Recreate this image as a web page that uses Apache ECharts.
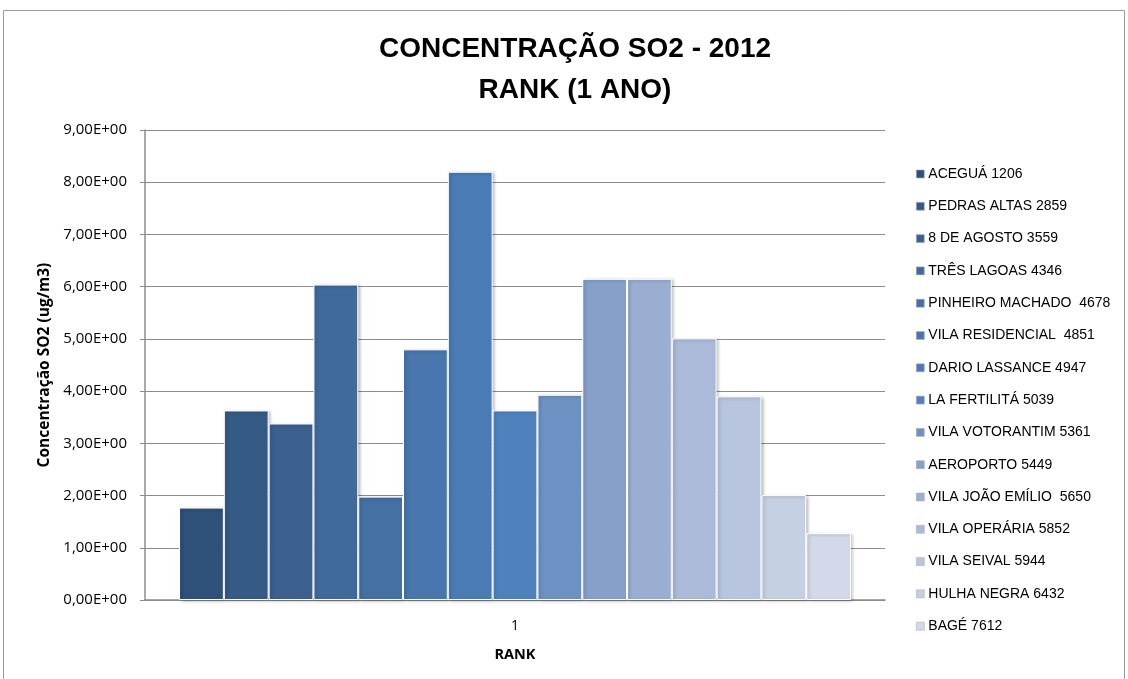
<!DOCTYPE html>
<html>
<head>
<meta charset="utf-8">
<script src="https://cdn.jsdelivr.net/npm/echarts@6/dist/echarts.min.js"></script>
<style>
  html, body { margin: 0; padding: 0; background: #fff; }
  #chart { width: 1128px; height: 679px; }
</style>
</head>
<body>
<div id="chart"></div>
<script>
// Station names with their codes, ordered as in the ranking
const stations = [
  'ACEGUÁ 1206', 'PEDRAS ALTAS 2859', '8 DE AGOSTO 3559', 'TRÊS LAGOAS 4346',
  'PINHEIRO MACHADO  4678', 'VILA RESIDENCIAL  4851', 'DARIO LASSANCE 4947',
  'LA FERTILITÁ 5039', 'VILA VOTORANTIM 5361', 'AEROPORTO 5449',
  'VILA JOÃO EMÍLIO  5650', 'VILA OPERÁRIA 5852', 'VILA SEIVAL 5944',
  'HULHA NEGRA 6432', 'BAGÉ 7612'
];
// Annual SO2 concentration (ug/m3) for each station
const concentrations = [
  1.77, 3.63, 3.38, 6.04, 1.98, 4.80, 8.20, 3.63,
  3.93, 6.15, 6.15, 5.01, 3.90, 2.01, 1.28
];
const categories = ['1'];
const barColors = [
  '#2F5078', '#355A86', '#3C608F', '#406A9B', '#4470A4', '#4876AD', '#4A7BB5',
  '#4F82BD', '#6E91C4', '#86A0CA', '#9AAED1', '#ABBAD8', '#B8C5DF', '#C6D0E3', '#D3D9E8'
];

const fmt = v => v.toFixed(2).replace('.', ',') + 'E+00';
const labelFont = '"Open Sans", "Liberation Sans", sans-serif';
const titleFont = '"Liberation Sans", "Open Sans", sans-serif';

const chart = echarts.init(document.getElementById('chart'));
chart.setOption({
  animation: false,
  backgroundColor: '#ffffff',
  title: {
    text: 'CONCENTRAÇÃO SO2 - 2012\nRANK (1 ANO)',
    left: 570, top: 24, textAlign: 'center',
    textStyle: { fontFamily: titleFont, fontWeight: 'bold', fontSize: 28, lineHeight: 41, color: '#000' }
  },
  graphic: [{
    type: 'rect', silent: true, z: -1,
    shape: { x: 3.5, y: 10.5, width: 1121, height: 700 },
    style: { fill: 'none', stroke: '#9a9a9a', lineWidth: 1 }
  }],
  legend: {
    orient: 'vertical', left: 911, top: 162,
    icon: 'rect', itemWidth: 8, itemHeight: 8, itemGap: 18.3,
    textStyle: { fontFamily: titleFont, fontSize: 14, lineHeight: 14, color: '#000', padding: [0, 0, 0, -1] },
    data: stations.map((name, i) => ({
      name, itemStyle: { color: barColors[i], borderColor: '#b0b0b0', borderWidth: 0.6 }
    }))
  },
  grid: { left: 145, right: 243, top: 130, bottom: 79 },
  xAxis: {
    type: 'category', data: categories,
    name: 'RANK', nameLocation: 'middle', nameGap: 47,
    nameTextStyle: { fontFamily: labelFont, fontWeight: 'bold', fontSize: 14.5, color: '#000' },
    axisLine: { lineStyle: { color: '#8c8c8c', width: 1.5 } },
    axisTick: { show: false },
    axisLabel: { fontFamily: labelFont, fontSize: 14, color: '#000', margin: 19 }
  },
  yAxis: {
    type: 'value', min: 0, max: 9, interval: 1,
    name: 'Concentração SO2 (ug/m3)', nameLocation: 'middle', nameGap: 92,
    nameTextStyle: { fontFamily: labelFont, fontWeight: 'bold', fontSize: 15.5, color: '#000' },
    axisLine: { show: true, lineStyle: { color: '#8c8c8c', width: 1.5 } },
    axisTick: { show: true, length: 5, inside: false, lineStyle: { color: '#8c8c8c' } },
    axisLabel: { fontFamily: labelFont, fontSize: 15, color: '#000', margin: 18, formatter: fmt },
    splitLine: { lineStyle: { color: '#8c8c8c', width: 1.2 } }
  },
  series: stations.map((name, i) => ({
    name, type: 'bar',
    data: [concentrations[i]],
    barGap: '0%', barCategoryGap: '9.2%',
    itemStyle: {
      color: barColors[i], borderColor: '#ffffff', borderWidth: 1,
      shadowColor: 'rgba(0,0,0,0.25)', shadowBlur: 3, shadowOffsetX: 2, shadowOffsetY: 1
    }
  }))
});
</script>
</body>
</html>
